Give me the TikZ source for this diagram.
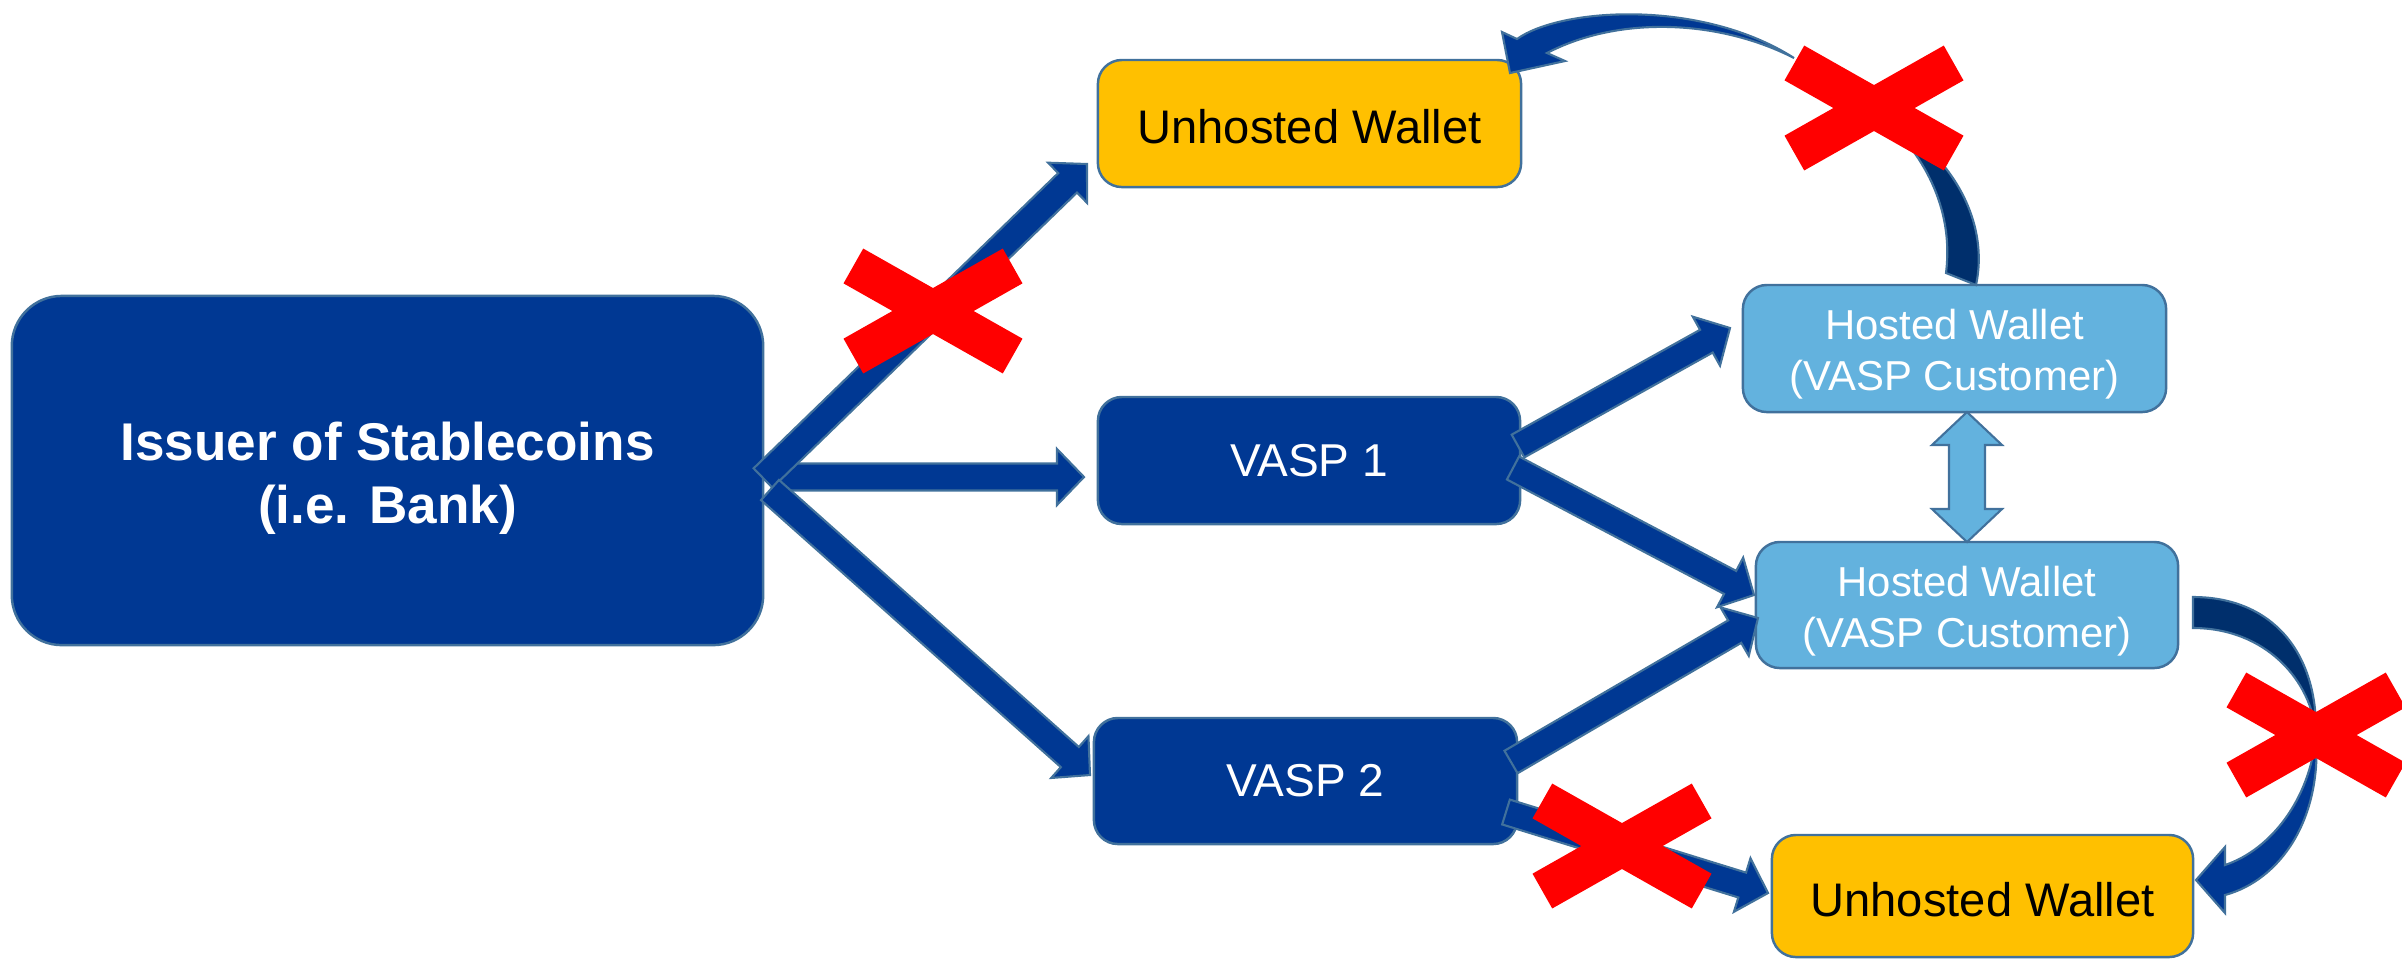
\documentclass[tikz,border=0pt]{standalone}
\usepackage{fontspec}
\setmainfont{Liberation Sans}
\usetikzlibrary{calc}
\definecolor{navy}{HTML}{003893}
\definecolor{darknavy}{HTML}{002F6C}
\definecolor{edgeblue}{HTML}{41719C}
\definecolor{skyfill}{HTML}{63B2DE}
\definecolor{gold}{HTML}{FFC000}
\definecolor{xred}{HTML}{FF0000}
% block arrow: [style]{start}{end}{half shaft}{half head}{head length}
\newcommand\blockarrow[6][]{%
  \coordinate (ban) at ($(#3)!#6!(#2)$);
  \draw[#1] ($(#2)!#4!90:(#3)$) -- ($(ban)!#4!90:(#3)$) -- ($(ban)!#5!90:(#3)$) -- (#3)
    -- ($(ban)!#5!-90:(#3)$) -- ($(ban)!#4!-90:(#3)$) -- ($(#2)!#4!-90:(#3)$) -- cycle;
}
% red cross centred on a named coordinate
\newcommand\redcross[1]{%
  \fill[xred, shift={(#1)}] (-89.49,-27.64) -- (-69.79,-62.46) -- (89.49,27.64) -- (69.79,62.46) -- cycle;
  \fill[xred, shift={(#1)}] (-89.49,27.64) -- (-69.79,62.46) -- (89.49,-27.64) -- (69.79,-62.46) -- cycle;
}
\newcommand\topstrut{\rule{0pt}{1.0em}}
\newcommand\smallstrut{\rule{0pt}{0.86em}}
\begin{document}
\begin{tikzpicture}[x=0.01cm,y=-0.01cm,
  box/.style={draw=edgeblue, line width=0.7pt, rounded corners=0.24cm, inner sep=0pt, align=center},
  navybox/.style={box, fill=navy, text=white},
  skybox/.style={box, fill=skyfill, text=white, font=\fontsize{11.9}{14.5}\selectfont},
  goldbox/.style={box, fill=gold, text=black, font=\fontsize{13.4}{16}\selectfont},
  arrowline/.style={draw=edgeblue, line width=0.6pt, line join=miter},
  navyarrow/.style={arrowline, fill=navy},
  darkarrow/.style={arrowline, fill=darknavy},
  skyarrow/.style={arrowline, fill=skyfill}]
\useasboundingbox (0,0) rectangle (2402,959);

% boxes
\node[navybox, rounded corners=0.5cm, minimum width=7.51cm, minimum height=3.49cm,
  font=\fontsize{15.1}{17.9}\selectfont\bfseries] (issuer) at (387.5,470.5) {\topstrut Issuer of Stablecoins\\(i.e. Bank)};
\node[goldbox, minimum width=4.23cm, minimum height=1.27cm] (uw1) at (1309.5,123.5) {\smallstrut Unhosted Wallet};
\node[navybox, minimum width=4.22cm, minimum height=1.27cm, font=\fontsize{13.1}{16}\selectfont] (vasp1) at (1309,460.5) {VASP 1};
\node[navybox, minimum width=4.23cm, minimum height=1.26cm, font=\fontsize{13.1}{16}\selectfont] (vasp2) at (1305.5,781) {VASP 2};
\node[skybox, minimum width=4.23cm, minimum height=1.27cm] (hw1) at (1954.5,348.5) {\topstrut Hosted Wallet\\(VASP Customer)};
\node[skybox, minimum width=4.22cm, minimum height=1.26cm] (hw2) at (1967,605) {\topstrut Hosted Wallet\\(VASP Customer)};
\node[goldbox, minimum width=4.21cm, minimum height=1.22cm] (uw2) at (1982.5,896) {\smallstrut Unhosted Wallet};

% arrow end points
\coordinate (a2s) at (772,477);   \coordinate (a2e) at (1084,477);
\coordinate (a1s) at (763,478);   \coordinate (a1e) at (1087,164);
\coordinate (a3s) at (770,490);   \coordinate (a3e) at (1090,775);
\coordinate (a4s) at (1518,446);  \coordinate (a4e) at (1730,328);
\coordinate (a5s) at (1513,468);  \coordinate (a5e) at (1754,595);
\coordinate (a6s) at (1511,762);  \coordinate (a6e) at (1758,618);
\coordinate (a7s) at (1506,812);  \coordinate (a7e) at (1768,893);

% straight block arrows
\blockarrow[navyarrow]{a2s}{a2e}{0.135cm}{0.28cm}{0.27cm}
\blockarrow[navyarrow]{a1s}{a1e}{0.135cm}{0.28cm}{0.27cm}
\blockarrow[navyarrow]{a3s}{a3e}{0.135cm}{0.28cm}{0.27cm}
\blockarrow[navyarrow]{a4s}{a4e}{0.13cm}{0.28cm}{0.27cm}
\blockarrow[navyarrow]{a5s}{a5e}{0.13cm}{0.28cm}{0.27cm}
\blockarrow[navyarrow]{a6s}{a6e}{0.13cm}{0.28cm}{0.27cm}
\blockarrow[navyarrow]{a7s}{a7e}{0.13cm}{0.28cm}{0.27cm}

% double arrow between hosted wallets
\coordinate (dtop) at (1967,412);
\coordinate (dbot) at (1967,542);
\draw[skyarrow] (dtop) -- ++(35,33) -- ++(-17,0) -- ++(0,64) -- ++(17,0) -- (dbot)
  -- ++(-35,-33) -- ++(17,0) -- ++(0,-64) -- ++(-17,0) -- cycle;

% curved arrow: hosted wallet 1 -> unhosted wallet 1
\coordinate (c1tip) at (1510,73);
\draw[darkarrow] (1880,115) .. controls (1915,145) and (1955,200) .. (1946,273)
  -- (1976,285) .. controls (1990,220) and (1950,150) .. (1880,115) -- cycle;
\draw[navyarrow] (1547,53) -- (1565,61) -- (c1tip) -- (1502,32) -- (1517,39)
  .. controls (1560,8) and (1700,-2) .. (1794,58)
  .. controls (1720,20) and (1620,15) .. (1547,53) -- cycle;

% curved arrow: hosted wallet 2 -> unhosted wallet 2
\coordinate (c2tip) at (2196,880);
\draw[darkarrow] (2193,597) .. controls (2270,597) and (2318,650) .. (2316,735)
  .. controls (2312,680) and (2265,628) .. (2193,628) -- cycle;
\draw[navyarrow] (2225,865) -- (2225,847) -- (c2tip) -- (2225,913) -- (2225,895)
  .. controls (2280,880) and (2322,820) .. (2316,735)
  .. controls (2310,800) and (2270,850) .. (2225,865) -- cycle;

% red crosses
\coordinate (x1) at (933,311);
\coordinate (x2) at (1874,108);
\coordinate (x3) at (2316,735);
\coordinate (x4) at (1622,846);
\redcross{x1}
\redcross{x2}
\redcross{x3}
\redcross{x4}
\end{tikzpicture}
\end{document}
